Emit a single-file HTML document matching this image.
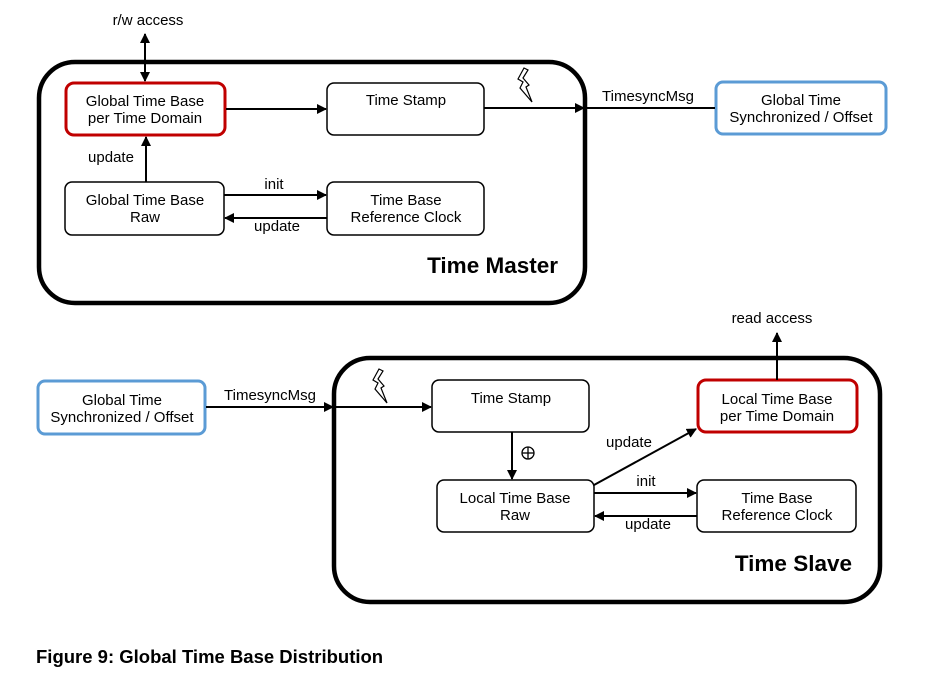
<!DOCTYPE html>
<html><head><meta charset="utf-8"><style>
html,body{margin:0;padding:0;background:#fff;}
svg text{font-family:"Liberation Sans",Arial,sans-serif;fill:#000;}
</style></head><body>
<svg width="939" height="680" viewBox="0 0 939 680" xmlns="http://www.w3.org/2000/svg">
<defs>
<marker id="a" markerWidth="10" markerHeight="10" refX="9" refY="5" orient="auto" markerUnits="userSpaceOnUse">
<path d="M0,0 L10,5 L0,10 z" fill="#000"/></marker>
<marker id="as" markerWidth="10" markerHeight="10" refX="1" refY="5" orient="auto" markerUnits="userSpaceOnUse">
<path d="M10,0 L0,5 L10,10 z" fill="#000"/></marker>
</defs>
<g fill="#fff" stroke="#000">
<rect x="39" y="62" width="546" height="241" rx="36" stroke-width="4.5"/>
<rect x="66" y="83" width="159" height="52" rx="8" stroke="#c00000" stroke-width="3"/>
<rect x="327" y="83" width="157" height="52" rx="7" stroke-width="1.5"/>
<rect x="65" y="182" width="159" height="53" rx="7" stroke-width="1.5"/>
<rect x="327" y="182" width="157" height="53" rx="7" stroke-width="1.5"/>
<rect x="716" y="82" width="170" height="52" rx="7" stroke="#5b9bd5" stroke-width="3"/>
<rect x="334" y="358" width="546" height="244" rx="36" stroke-width="4.5"/>
<rect x="432" y="380" width="157" height="52" rx="7" stroke-width="1.5"/>
<rect x="437" y="480" width="157" height="52" rx="7" stroke-width="1.5"/>
<rect x="697" y="480" width="159" height="52" rx="7" stroke-width="1.5"/>
<rect x="698" y="380" width="159" height="52" rx="8" stroke="#c00000" stroke-width="3"/>
<rect x="38" y="381" width="167" height="53" rx="7" stroke="#5b9bd5" stroke-width="3"/>
</g>
<g stroke="#000" stroke-width="2" fill="none">
<line x1="145" y1="34" x2="145" y2="81" marker-start="url(#as)" marker-end="url(#a)"/>
<line x1="226" y1="109" x2="326" y2="109" marker-end="url(#a)"/>
<line x1="484" y1="108" x2="584" y2="108" marker-end="url(#a)"/>
<line x1="586" y1="108" x2="715" y2="108"/>
<line x1="146" y1="182" x2="146" y2="137" marker-end="url(#a)"/>
<line x1="224" y1="195" x2="326" y2="195" marker-end="url(#a)"/>
<line x1="327" y1="218" x2="225" y2="218" marker-end="url(#a)"/>
<line x1="206" y1="407" x2="333" y2="407" marker-end="url(#a)"/>
<line x1="335" y1="407" x2="431" y2="407" marker-end="url(#a)"/>
<line x1="512" y1="432" x2="512" y2="479" marker-end="url(#a)"/>
<line x1="594" y1="493" x2="696" y2="493" marker-end="url(#a)"/>
<line x1="697" y1="516" x2="595" y2="516" marker-end="url(#a)"/>
<line x1="594" y1="485" x2="696" y2="429" marker-end="url(#a)"/>
<line x1="777" y1="380" x2="777" y2="333" marker-end="url(#a)"/>
</g>
<g stroke="#000" stroke-width="1.2" fill="#fff">
<path d="M524,68 L518,79 L523,82 L520,88 L532,102 L526,87 L529,85 L523,78 L528,70 z"/>
<path d="M379,369 L373,380 L378,383 L375,389 L387,403 L381,388 L384,386 L378,379 L383,371 z"/>
</g>
<circle cx="528" cy="453" r="6" fill="none" stroke="#000" stroke-width="1.3"/>
<line x1="522" y1="453" x2="534" y2="453" stroke="#000" stroke-width="1.3"/>
<line x1="528" y1="447" x2="528" y2="459" stroke="#000" stroke-width="1.3"/>
<g font-size="15" text-anchor="middle">
<text x="148" y="25">r/w access</text>
<text x="145" y="106">Global Time Base</text>
<text x="145" y="123">per Time Domain</text>
<text x="406" y="105">Time Stamp</text>
<text x="145" y="205">Global Time Base</text>
<text x="145" y="222">Raw</text>
<text x="406" y="205">Time Base</text>
<text x="406" y="222">Reference Clock</text>
<text x="111" y="162">update</text>
<text x="274" y="189">init</text>
<text x="277" y="231">update</text>
<text x="648" y="101">TimesyncMsg</text>
<text x="801" y="105">Global Time</text>
<text x="801" y="122">Synchronized / Offset</text>
<text x="122" y="405">Global Time</text>
<text x="122" y="422">Synchronized / Offset</text>
<text x="270" y="400">TimesyncMsg</text>
<text x="511" y="403">Time Stamp</text>
<text x="515" y="503">Local Time Base</text>
<text x="515" y="520">Raw</text>
<text x="777" y="503">Time Base</text>
<text x="777" y="520">Reference Clock</text>
<text x="777" y="404">Local Time Base</text>
<text x="777" y="421">per Time Domain</text>
<text x="629" y="447">update</text>
<text x="646" y="486">init</text>
<text x="648" y="529">update</text>
<text x="772" y="323">read access</text>
</g>
<text x="558" y="273" font-size="22.5" font-weight="bold" text-anchor="end">Time Master</text>
<text x="852" y="571" font-size="22.5" font-weight="bold" text-anchor="end">Time Slave</text>
<text x="36" y="663" font-size="18.5" font-weight="bold">Figure 9: Global Time Base Distribution</text>
</svg>
</body></html>
